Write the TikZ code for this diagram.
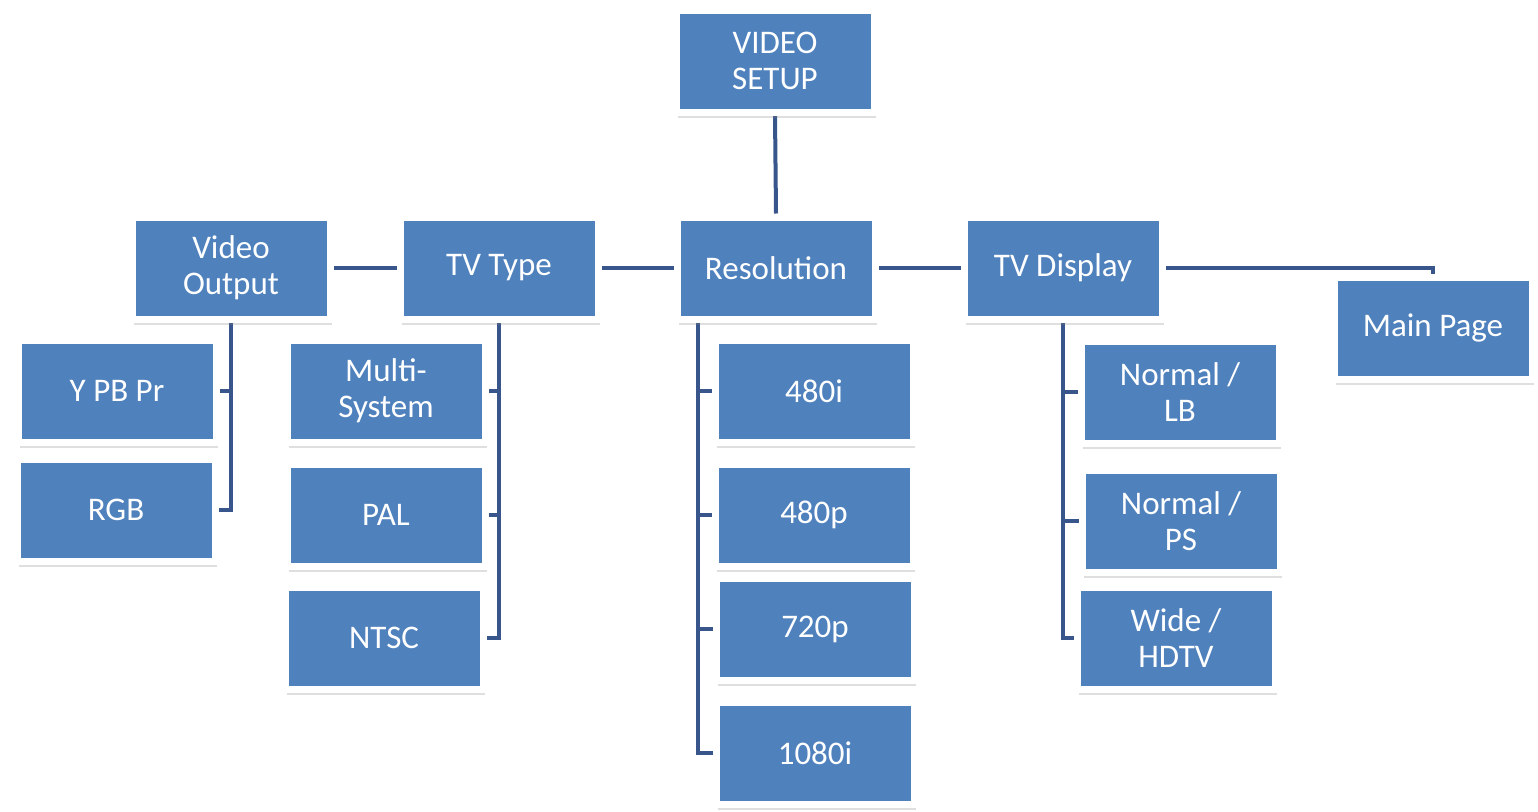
\documentclass[tikz,border=0pt]{standalone}
\usepackage{fontspec}
\setmainfont{Carlito}
\usetikzlibrary{shadows,backgrounds}
\definecolor{cajaazul}{RGB}{79,129,189}
\definecolor{lineaazul}{RGB}{56,86,140}
\tikzset{
  caja/.style={fill=cajaazul,draw=white,line width=7pt,
    minimum width=198pt,minimum height=102pt,inner sep=0pt,
    align=center,text=white,font=\fontsize{33}{36}\selectfont,
    drop shadow={shadow xshift=2pt,shadow yshift=-6pt,fill=black!50,opacity=0.25}},
  linea/.style={draw=lineaazul,line width=4pt}
}
\begin{document}
\begin{tikzpicture}[x=1pt,y=-1pt]
\useasboundingbox (0,0) rectangle (1538,811);
    %Nivel superior
    \node[caja] (vs) at (775,61) {VIDEO\\SETUP};

    %Fila principal
    \node[caja] (vo)  at (231,268)  {Video\\Output};
    \node[caja] (tv)  at (499,268)  {TV Type};
    \node[caja] (res) at (776,268)  {Resolution};
    \node[caja] (tvd) at (1063,268) {TV Display};
    \node[caja] (mp)  at (1433,328) {Main Page};

    %Opciones
    \node[caja] (ypb) at (117,391) {Y PB Pr};
    \node[caja] (rgb) at (116,510) {RGB};
    \node[caja] (ms)   at (386,391) {Multi-\\System};
    \node[caja] (pal)  at (386,515) {PAL};
    \node[caja] (ntsc) at (384,638) {NTSC};
    \node[caja] (ri)   at (814,391) {480i};
    \node[caja] (rp)   at (814,515) {480p};
    \node[caja] (rsp)  at (815,629) {720p};
    \node[caja] (rmi)  at (815,753) {1080i};
    \node[caja] (nlb)  at (1180,392) {Normal /\\LB};
    \node[caja] (nps)  at (1181,521) {Normal /\\PS};
    \node[caja] (whd)  at (1176,638) {Wide /\\HDTV};

    %Conectores
    \begin{scope}[on background layer]
    \draw[linea] (vs.south) -- (res.north);
    \draw[linea] (vo.east) -- (tv.west) (tv.east) -- (res.west) (res.east) -- (tvd.west);
    \draw[linea] (tvd.east) -| (mp.north);
    \foreach \h in {ypb,rgb}
        \draw[linea] (vo.south) |- (\h.east);
    \foreach \h in {ms,pal,ntsc}
        \draw[linea] (tv.south) |- (\h.east);
    \foreach \h in {ri,rp,rsp,rmi}
        \draw[linea] ([xshift=24pt]res.south west) |- (\h.west);
    \foreach \h in {nlb,nps,whd}
        \draw[linea] (tvd.south) |- (\h.west);
    \end{scope}
\end{tikzpicture}
\end{document}
